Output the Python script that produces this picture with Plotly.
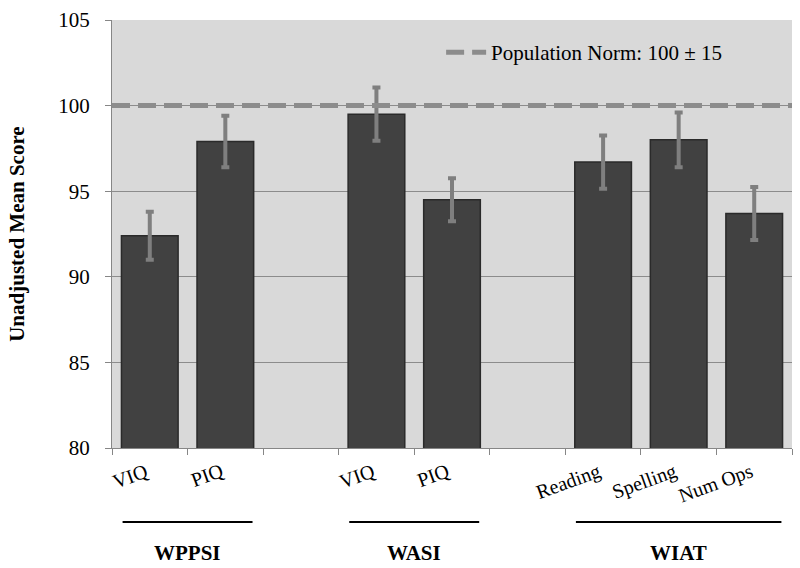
import plotly.graph_objects as go

# ---- data ----
categories = ["VIQ", "PIQ", "", "VIQ", "PIQ", "", "Reading", "Spelling", "Num Ops"]
means = [92.4, 97.9, None, 99.5, 94.5, None, 96.7, 98.0, 93.7]
errors = [1.4, 1.5, None, 1.55, 1.25, None, 1.55, 1.6, 1.55]
groups = ["WPPSI", "WASI", "WIAT"]
group_first = [0, 3, 6]
group_last = [1, 4, 8]
norm_value = 100
norm_label = "Population Norm: 100 \u00b1 15"
y_title = "Unadjusted Mean Score"
y_ticks = [80, 85, 90, 95, 100, 105]

FONT = "Liberation Serif, Times New Roman, serif"
n = len(categories)
xs = list(range(n))

fig = go.Figure()

fig.add_trace(go.Bar(
    x=xs, y=[m if m is not None else 0 for m in means],
    marker=dict(color="#414141", line=dict(color="#2a2a2a", width=1.5)),
    error_y=dict(type="data", array=[e if e is not None else 0 for e in errors],
                 color="#7f7f7f", thickness=4, width=4),
    showlegend=False, width=0.75,
))

fig.add_trace(go.Scatter(
    x=[-0.5, n - 0.5], y=[norm_value, norm_value], mode="lines",
    line=dict(color="#8c8c8c", width=5, dash="18px,8px"),
    name=norm_label, showlegend=True,
))

annotations = []
for i, c in enumerate(categories):
    if c:
        annotations.append(dict(
            x=i + 0.05, y=-0.02, xref="x", yref="paper", text=c, showarrow=False,
            xanchor="right", yanchor="top", textangle=-20,
            font=dict(family=FONT, size=20, color="black")))

shapes = []
for g, a, b in zip(groups, group_first, group_last):
    shapes.append(dict(type="line", xref="x", yref="paper",
                       x0=a - 0.36, x1=b + 0.36, y0=-0.173, y1=-0.173,
                       line=dict(color="black", width=2)))
    annotations.append(dict(
        x=(a + b) / 2, y=-0.246, xref="x", yref="paper", text="<b>%s</b>" % g,
        showarrow=False, xanchor="center", yanchor="middle",
        font=dict(family=FONT, size=21, color="black")))

annotations.append(dict(
    x=-0.14, y=0.5, xref="paper", yref="paper", text="<b>%s</b>" % y_title,
    showarrow=False, textangle=-90, xanchor="center", yanchor="middle",
    font=dict(family=FONT, size=21, color="black")))

fig.update_layout(
    width=800, height=568,
    margin=dict(l=112, r=8, t=14, b=120),
    paper_bgcolor="white", plot_bgcolor="#d9d9d9",
    font=dict(family=FONT, size=21, color="black"),
    annotations=annotations, shapes=shapes,
    legend=dict(x=0.484, y=0.924, xanchor="left", yanchor="middle",
                bgcolor="rgba(0,0,0,0)", font=dict(family=FONT, size=21),
                itemwidth=40),
    bargap=0.25,
)
fig.update_xaxes(
    range=[-0.5, n - 0.5], tickmode="array",
    tickvals=[i - 0.5 for i in range(n + 1)], ticktext=[""] * (n + 1),
    ticks="outside", ticklen=6, tickcolor="#868686",
    showline=True, linecolor="#868686", linewidth=1, showgrid=False, zeroline=False,
)
fig.update_yaxes(
    range=[80, 105], tickmode="array", tickvals=y_ticks,
    ticks="outside", ticklen=6, tickcolor="#868686",
    showline=True, linecolor="#868686", linewidth=1,
    showgrid=True, gridcolor="#8c8c8c", gridwidth=1, zeroline=False,
    ticklabelstandoff=11,
    tickfont=dict(family=FONT, size=21, color="black"),
)

fig.write_html("out.html", config={"displayModeBar": False},
               post_script="document.body.style.margin='0';document.body.style.overflow='hidden';")
